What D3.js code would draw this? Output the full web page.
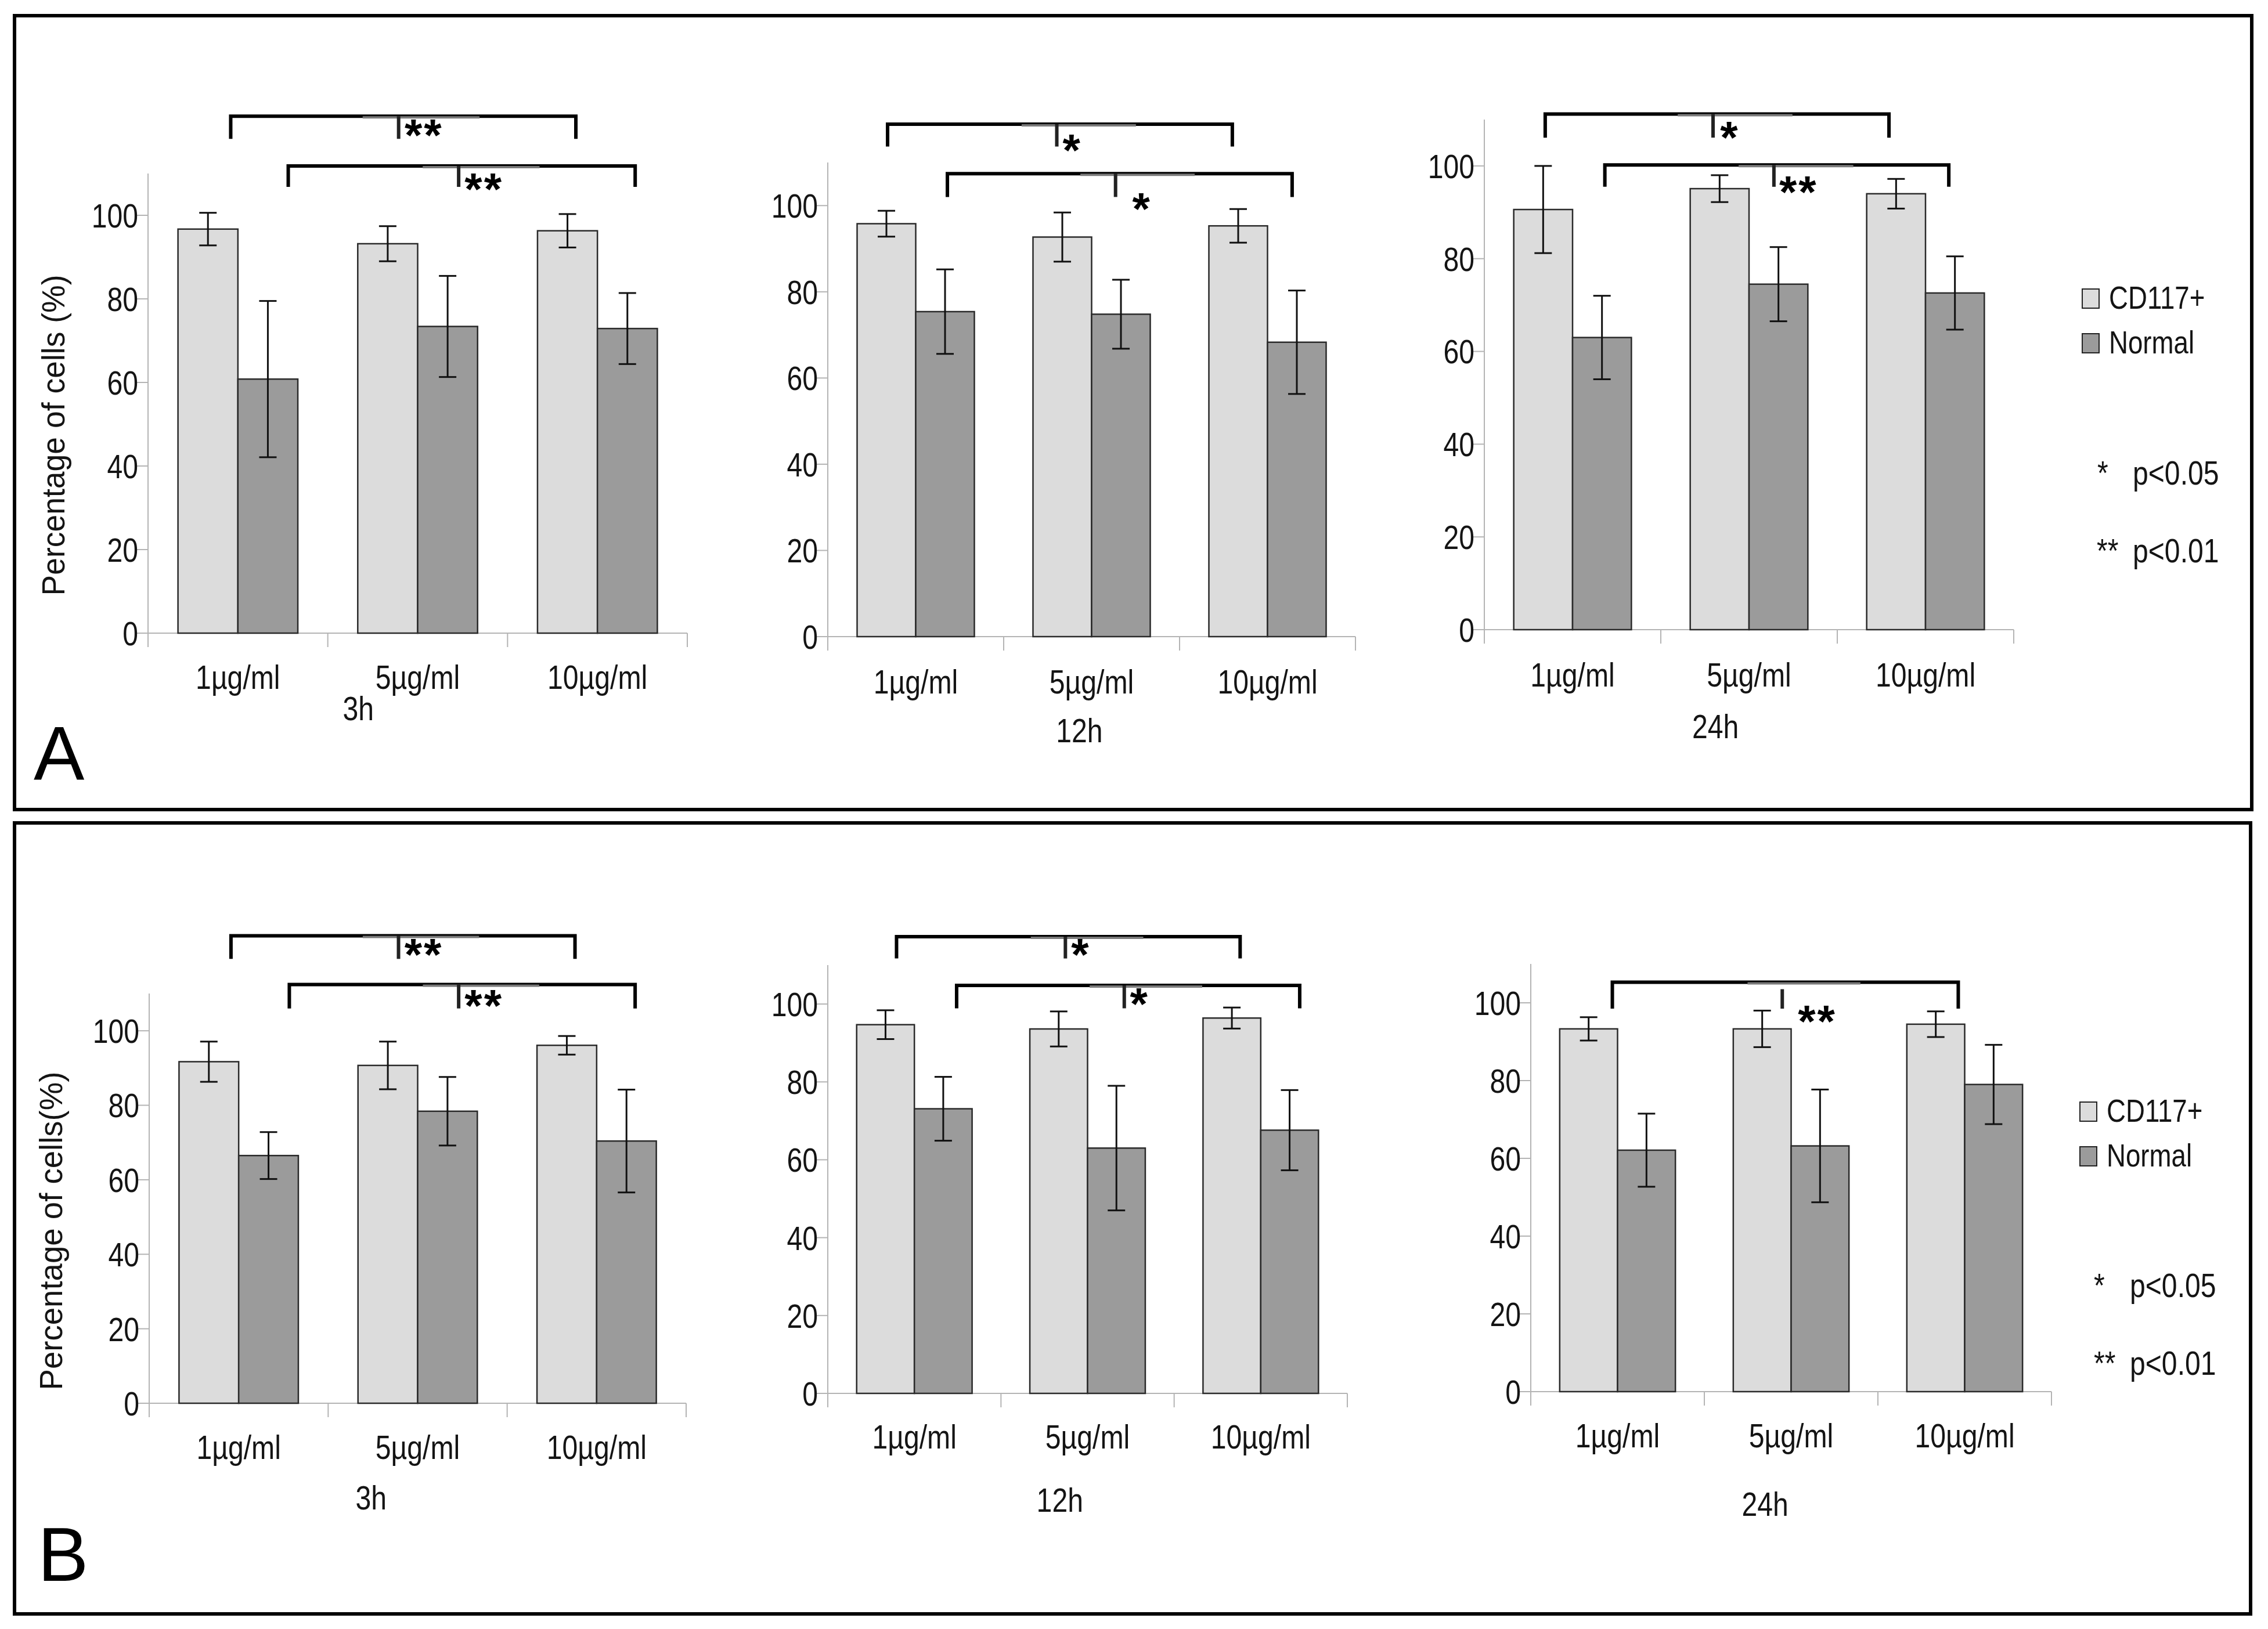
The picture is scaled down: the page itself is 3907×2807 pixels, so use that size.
<!DOCTYPE html>
<html><head><meta charset="utf-8">
<script src="https://cdn.jsdelivr.net/npm/d3@7"></script>
<style>
body{margin:0;background:#fff}
text{font-family:"Liberation Sans",Arial,sans-serif;fill:#141414}
</style>
</head><body>
<svg id="c" width="3907" height="2807"></svg>
<script>
// ---------------- DATA ----------------
const categories = ["1µg/ml", "5µg/ml", "10µg/ml"];
const seriesNames = ["CD117+", "Normal"];
const timeLabels = ["3h", "12h", "24h"];
const yTicks = [0, 20, 40, 60, 80, 100];
const yMax = 110;
const panelLabels = ["A", "B"];
const yTitles = ["Percentage of cells (%)", "Percentage of cells(%)"];
const sigLegend = [["*", "p<0.05"], ["**", "p<0.01"]];

// Panel A (rows: 3h, 12h, 24h; columns: 1, 5, 10 µg/ml)
const aCD117     = [[96.7, 93.2, 96.3], [95.8, 92.7, 95.3], [90.6, 95.1, 94.0]];
const aCD117Err  = [[3.9, 4.2, 4.0],    [3.0, 5.7, 3.9],    [9.4, 2.9, 3.2]];
const aNormal    = [[60.8, 73.4, 72.9], [75.4, 74.8, 68.3], [63.0, 74.5, 72.6]];
const aNormalErr = [[18.7, 12.1, 8.5],  [9.8, 8.0, 12.0],   [9.0, 8.0, 7.9]];

// Panel B
const bCD117     = [[91.7, 90.7, 96.1], [94.7, 93.6, 96.4], [93.3, 93.3, 94.5]];
const bCD117Err  = [[5.4, 6.4, 2.5],    [3.7, 4.5, 2.7],    [3.0, 4.7, 3.3]];
const bNormal    = [[66.5, 78.4, 70.4], [73.1, 63.0, 67.6], [62.1, 63.2, 79.0]];
const bNormalErr = [[6.3, 9.2, 13.8],   [8.2, 16.0, 10.3],  [9.4, 14.5, 10.2]];

// Significance brackets: ends/centre in category units (0..3), levels in %
const aBrackets = [
  [{x1: 0.46, x2: 2.38, m: 1.394, y: 123.7, y2: 118.3, sy: 123.2, sx: 0.033, label: "**"},
   {x1: 0.78, x2: 2.71, m: 1.728, y: 111.8, y2: 106.8, sy: 110.3, sx: 0.033, label: "**"}],
  [{x1: 0.34, x2: 2.30, m: 1.302, y: 118.9, y2: 113.7, sy: 116.7, sx: 0.033, label: "*"},
   {x1: 0.68, x2: 2.64, m: 1.636, y: 107.4, y2: 102.0, sy: 103.2, sx: 0.095, label: "*"}],
  [{x1: 0.345, x2: 2.293, m: 1.296, y: 111.2, y2: 106.1, sy: 109.8, sx: 0.04, label: "*"},
   {x1: 0.683, x2: 2.632, m: 1.641, y: 100.2, y2: 95.5, sy: 98.0, sx: 0.03, label: "**"}]
];
const bBrackets = [
  [{x1: 0.457, x2: 2.379, m: 1.393, y: 125.5, y2: 119.3, sy: 125.0, sx: 0.033, label: "**"},
   {x1: 0.783, x2: 2.715, m: 1.729, y: 112.4, y2: 106.0, sy: 111.3, sx: 0.033, label: "**"}],
  [{x1: 0.397, x2: 2.381, m: 1.372, y: 117.3, y2: 111.7, sy: 117.0, sx: 0.033, label: "*"},
   {x1: 0.744, x2: 2.725, m: 1.712, y: 104.8, y2: 98.9, sy: 104.4, sx: 0.033, label: "*"}],
  [{x1: 0.47, x2: 2.463, m: 1.449, y: 105.3, y2: 98.5, sy: 99.6, sx: 0.09, label: "**", gap: true}]
];

// ---------------- LAYOUT ----------------
const SX = 0.83; // horizontal condensing of the reference lettering
const colors = {"CD117+": "#dcdcdc", "Normal": "#9b9b9b"};
const panels = [
  {frame: [25, 27, 3879, 1395], letter: [58, 1344], title: [91, 750, 553],
   legend: [3587, 498], stat: [[3613, 3674, 835], [3612, 3674, 969]],
   cd: aCD117, cdE: aCD117Err, nm: aNormal, nmE: aNormalErr, br: aBrackets,
   charts: [{x0: 255, x1: 1184, yb: 1091, yt: 299, catDy: 96, tDy: 150, tX: 1.17},
            {x0: 1426, x1: 2335, yb: 1097, yt: 280, catDy: 98, tDy: 182, tX: 1.43},
            {x0: 2557, x1: 3469, yb: 1085, yt: 206, catDy: 98, tDy: 187, tX: 1.31}]},
  {frame: [25, 1418, 3877, 2781], letter: [65, 2724], title: [87, 2121, 549],
   legend: [3583, 1899], stat: [[3607, 3669, 2235], [3607, 3669, 2369]],
   cd: bCD117, cdE: bCD117Err, nm: bNormal, nmE: bNormalErr, br: bBrackets,
   charts: [{x0: 257, x1: 1182, yb: 2418, yt: 1712, catDy: 96, tDy: 183, tX: 1.24},
            {x0: 1426, x1: 2321, yb: 2401, yt: 1663, catDy: 95, tDy: 204, tX: 1.34},
            {x0: 2637, x1: 3534, yb: 2398, yt: 1661, catDy: 96, tDy: 214, tX: 1.35}]}
];
const tr = (x, y) => `translate(${x},${y}) scale(${SX},1)`;

const svg = d3.select("#c");
svg.append("rect").attr("width", 3907).attr("height", 2807).attr("fill", "#fff");

panels.forEach((P, pi) => {
  const g = svg.append("g");
  const [fx0, fy0, fx1, fy1] = P.frame;
  g.append("rect").attr("x", fx0).attr("y", fy0).attr("width", fx1 - fx0).attr("height", fy1 - fy0)
    .attr("fill", "none").attr("stroke", "#000").attr("stroke-width", 6);
  g.append("text").attr("transform", `translate(${P.letter[0]},${P.letter[1]})`).attr("font-size", 131)
    .style("fill", "#000").text(panelLabels[pi]);
  // y title
  g.append("text").attr("transform", `translate(${P.title[0]},${P.title[1]}) rotate(-90)`)
    .attr("text-anchor", "middle").attr("dy", "0.35em").attr("font-size", 56)
    .attr("textLength", P.title[2]).attr("lengthAdjust", "spacingAndGlyphs").text(yTitles[pi]);

  P.charts.forEach((L, ci) => {
    const cg = g.append("g");
    const y = d3.scaleLinear([0, yMax], [L.yb, L.yt]);
    const xu = d3.scaleLinear([0, categories.length], [L.x0, L.x1]);
    const xb = d3.scaleBand(categories, [L.x0, L.x1]).paddingInner(1 / 3).paddingOuter(1 / 6);
    const xs = d3.scaleBand(seriesNames, [0, xb.bandwidth()]);

    // axes
    const ax = cg.append("g").attr("stroke", "#b4b4b4").attr("stroke-width", 2);
    ax.append("line").attr("x1", L.x0).attr("x2", L.x0).attr("y1", y(0)).attr("y2", y(yMax));
    ax.append("line").attr("x1", L.x0).attr("x2", L.x1).attr("y1", y(0)).attr("y2", y(0));
    ax.selectAll(".yt").data(yTicks).join("line")
      .attr("x1", L.x0 - 21).attr("x2", L.x0).attr("y1", d => y(d)).attr("y2", d => y(d));
    ax.selectAll(".xt").data(d3.range(categories.length + 1)).join("line")
      .attr("x1", d => xu(d)).attr("x2", d => xu(d)).attr("y1", y(0)).attr("y2", y(0) + 24);
    cg.selectAll(".yl").data(yTicks).join("text")
      .attr("transform", d => tr(L.x0 - 17, y(d))).attr("dy", "0.36em")
      .attr("text-anchor", "end").attr("font-size", 58).text(d => d);
    cg.selectAll(".xl").data(categories).join("text")
      .attr("transform", d => tr(xb(d) + xb.bandwidth() / 2, y(0) + L.catDy))
      .attr("text-anchor", "middle").attr("font-size", 58).text(d => d);
    cg.append("text").attr("transform", tr(xu(L.tX), y(0) + L.tDy))
      .attr("text-anchor", "middle").attr("font-size", 58).text(timeLabels[ci]);

    // bars
    const rows = categories.flatMap((c, i) => [
      {c, s: seriesNames[0], v: P.cd[ci][i], e: P.cdE[ci][i]},
      {c, s: seriesNames[1], v: P.nm[ci][i], e: P.nmE[ci][i]}
    ]);
    cg.selectAll(".bar").data(rows).join("rect")
      .attr("x", d => xb(d.c) + xs(d.s)).attr("width", xs.bandwidth())
      .attr("y", d => y(d.v)).attr("height", d => y(0) - y(d.v))
      .attr("fill", d => colors[d.s]).attr("stroke", "#2a2a2a").attr("stroke-width", 2.5);
    // error bars
    const eg = cg.append("g").attr("stroke", "#111").attr("stroke-width", 3);
    rows.forEach(d => {
      const cx = xb(d.c) + xs(d.s) + xs.bandwidth() / 2;
      eg.append("line").attr("x1", cx).attr("x2", cx).attr("y1", y(d.v + d.e)).attr("y2", y(d.v - d.e));
      [d.v + d.e, d.v - d.e].forEach(v => eg.append("line")
        .attr("x1", cx - 15).attr("x2", cx + 15).attr("y1", y(v)).attr("y2", y(v)));
    });

    // significance brackets
    P.br[ci].forEach(b => {
      cg.append("path")
        .attr("d", `M${xu(b.x1)},${y(b.y2)}V${y(b.y)}H${xu(b.x2)}V${y(b.y2)}`)
        .attr("fill", "none").attr("stroke", "#000").attr("stroke-width", 6);
      cg.append("line").attr("x1", xu(b.m - 0.2)).attr("x2", xu(b.m + 0.45))
        .attr("y1", y(b.y) + 2).attr("y2", y(b.y) + 2)
        .attr("stroke", "#7a7a7a").attr("stroke-width", 4);
      const top = b.gap ? y(b.y) + 12 : y(b.y);
      cg.append("line").attr("x1", xu(b.m)).attr("x2", xu(b.m))
        .attr("y1", top).attr("y2", y(b.y2))
        .attr("stroke", "#222").attr("stroke-width", 6);
      cg.append("text").attr("x", xu(b.m + b.sx)).attr("y", y(b.sy) + 56)
        .attr("font-size", 78).attr("font-weight", "bold").attr("letter-spacing", 3)
        .style("fill", "#000").text(b.label);
    });
  });

  // legend
  const [lx, ly] = P.legend;
  seriesNames.forEach((s, i) => {
    g.append("rect").attr("x", lx).attr("y", ly + i * 77).attr("width", 29).attr("height", 33)
      .attr("fill", colors[s]).attr("stroke", "#222").attr("stroke-width", 2);
    g.append("text").attr("transform", tr(lx + 46, ly + i * 77 + 34)).attr("font-size", 55).text(s);
  });
  sigLegend.forEach((d, i) => {
    const [sx, px, sy] = P.stat[i];
    g.append("text").attr("transform", tr(sx, sy)).attr("font-size", 58).text(d[0]);
    g.append("text").attr("transform", tr(px, sy)).attr("font-size", 58).text(d[1]);
  });
});
</script>
</body></html>
